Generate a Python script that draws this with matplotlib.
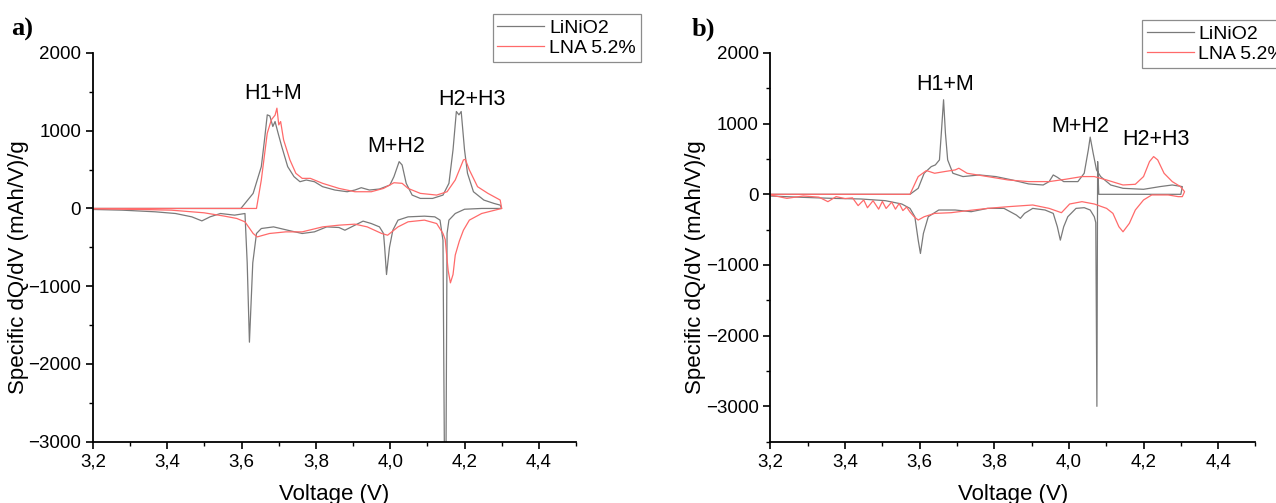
import matplotlib.pyplot as plt
from matplotlib.ticker import MultipleLocator, FuncFormatter

plt.rcParams['font.family'] = ['Liberation Sans', 'DejaVu Sans']

# panel a) LiNiO2 (charge then discharge)
a_lno_v = [3.2, 3.598, 3.631, 3.653, 3.662, 3.669, 3.676, 3.684, 3.690, 3.697, 3.708, 3.724, 3.741, 3.757,
           3.774, 3.796, 3.818, 3.851, 3.884, 3.905, 3.922, 3.944, 3.971, 3.999, 4.010, 4.024, 4.032, 4.043,
           4.059, 4.081, 4.114, 4.142, 4.158, 4.169, 4.178, 4.185, 4.191, 4.200, 4.208, 4.224, 4.252, 4.279,
           4.296,
           4.300, 4.246, 4.200, 4.175, 4.158, 4.153, 4.150, 4.146, 4.142, 4.134, 4.120, 4.092, 4.048, 4.021,
           4.007, 3.998, 3.990, 3.985, 3.982, 3.971, 3.949, 3.927, 3.905, 3.878, 3.862, 3.829, 3.796, 3.763,
           3.724, 3.686, 3.653, 3.640, 3.630, 3.621, 3.615, 3.609, 3.581, 3.543, 3.515, 3.493, 3.466, 3.422,
           3.367, 3.279, 3.2]
a_lno_q = [0, 0, 194, 538, 900, 1204, 1190, 1054, 1118, 989, 796, 538, 409, 344,
           366, 344, 280, 237, 215, 237, 267, 237, 250, 301, 409, 602, 559, 323,
           172, 129, 129, 172, 323, 753, 1247, 1204, 1247, 753, 452, 215, 108, 65,
           43,
           0, 0, -10, -65, -150, -320, -3300, -3300, -410, -150, -108, -99, -108, -150,
           -280, -500, -850, -500, -322, -237, -194, -163, -215, -280, -245, -237, -301, -322,
           -280, -237, -258, -322, -700, -1720, -700, -65, -86, -65, -108, -160, -108, -65,
           -43, -22, -13]

# panel a) LNA 5.2%
a_lna_v = [3.2, 3.640, 3.653, 3.669, 3.680, 3.690, 3.695, 3.700, 3.705, 3.713, 3.730, 3.746, 3.763, 3.785,
           3.818, 3.862, 3.905, 3.949, 3.982, 4.010, 4.032, 4.048, 4.081, 4.125, 4.153, 4.175, 4.197, 4.202,
           4.213, 4.235, 4.263, 4.296,
           4.300, 4.246, 4.213, 4.197, 4.186, 4.175, 4.169, 4.162, 4.156, 4.153, 4.148, 4.142, 4.125, 4.092,
           4.048, 4.021, 3.993, 3.977, 3.938, 3.905, 3.862, 3.818, 3.763, 3.719, 3.675, 3.642, 3.631, 3.609,
           3.587, 3.554, 3.499, 3.411, 3.279, 3.2]
a_lna_q = [0, 0, 366, 968, 1140, 1200, 1290, 1075, 1118, 882, 624, 452, 387, 387,
           323, 258, 215, 215, 258, 331, 323, 258, 194, 172, 215, 366, 624, 632,
           495, 280, 194, 108,
           0, -65, -150, -280, -420, -600, -850, -957, -800, -656, -400, -322, -194, -150,
           -172, -237, -344, -322, -237, -202, -215, -237, -301, -301, -322, -366, -322, -172,
           -129, -99, -56, -22, -9, -4]

# panel b) LiNiO2
b_lno_v = [3.2, 3.574, 3.596, 3.612, 3.631, 3.642, 3.653, 3.658, 3.664, 3.669, 3.675, 3.689, 3.716, 3.760,
           3.804, 3.848, 3.892, 3.931, 3.947, 3.958, 3.969, 3.986, 4.024, 4.041, 4.052, 4.057, 4.065, 4.074,
           4.085, 4.112, 4.145, 4.200, 4.244, 4.277, 4.304,
           4.300, 4.080, 4.077, 4.075, 4.072, 4.068, 4.057, 4.041, 4.019, 3.997, 3.986, 3.977, 3.969, 3.958,
           3.936, 3.903, 3.881, 3.870, 3.859, 3.826, 3.782, 3.738, 3.695, 3.651, 3.623, 3.610, 3.602, 3.596,
           3.587, 3.574, 3.552, 3.508, 3.442, 3.365, 3.288, 3.2]
b_lno_q = [0, 0, 85, 298, 392, 416, 487, 865, 1338, 865, 487, 298, 251, 274,
           251, 203, 147, 132, 180, 274, 241, 180, 180, 298, 629, 809, 582, 345,
           251, 132, 85, 71, 109, 132, 109,
           0, 0, 463, -3000, -400, -317, -222, -189, -199, -317, -459, -648, -459, -270,
           -222, -199, -270, -340, -293, -199, -199, -246, -222, -222, -317, -553, -837, -648,
           -317, -199, -137, -90, -66, -57, -43, -24]

# panel b) LNA 5.2%
b_lna_v = [3.2, 3.574, 3.596, 3.618, 3.640, 3.667, 3.695, 3.705, 3.727, 3.782, 3.837, 3.892, 3.947, 3.991,
           4.035, 4.068, 4.101, 4.145, 4.178, 4.200, 4.216, 4.227, 4.238, 4.255, 4.277, 4.299, 4.310, 4.304,
           4.293, 4.266, 4.222, 4.200, 4.178, 4.162, 4.145, 4.134, 4.118, 4.101, 4.068, 4.035, 4.002, 3.980,
           3.947, 3.903, 3.837, 3.782, 3.727, 3.684, 3.640, 3.612, 3.596, 3.585, 3.574, 3.565, 3.555, 3.545,
           3.535, 3.525, 3.510, 3.500, 3.490, 3.475, 3.460, 3.450, 3.435, 3.420, 3.400, 3.376, 3.354, 3.330,
           3.288, 3.244, 3.2]
b_lna_q = [0, 0, 251, 336, 298, 322, 345, 369, 298, 251, 203, 180, 180, 213,
           251, 251, 203, 132, 142, 251, 463, 534, 487, 298, 180, 109, 38, -33,
           -33, -9, -9, -80, -222, -411, -530, -459, -270, -199, -137, -104, -137, -260,
           -199, -151, -175, -199, -232, -260, -270, -317, -364, -317, -250, -180, -230, -130,
           -210, -110, -200, -100, -210, -90, -190, -80, -160, -50, -60, -33, -104, -40,
           -24, -57, -9]

series_names = ['LiNiO2', 'LNA 5.2%']
colors = ['#7a7a7a', '#ff6a6a']

a_labels = ['H1+M', 'M+H2', 'H2+H3']
a_label_pos = [(3.686, 1480), (4.015, 800), (4.219, 1400)]
b_labels = ['H1+M', 'M+H2', 'H2+H3']
b_label_pos = [(3.667, 1550), (4.030, 960), (4.233, 771)]

fig = plt.figure(figsize=(12.76, 5.03), dpi=100)
ax_a = fig.add_axes([0.0729, 0.1219, 0.3785, 0.7728])
ax_b = fig.add_axes([0.6038, 0.1219, 0.3801, 0.7728])

comma = FuncFormatter(lambda x, pos: ('%.1f' % x).replace('.', ','))
minus = FuncFormatter(lambda y, pos: ('%d' % y).replace('-', '\u2212'))

panels = [
    (ax_a, [(a_lno_v, a_lno_q), (a_lna_v, a_lna_q)], a_labels, a_label_pos, (-3000, 2000), 'a)', (0.009, 0.93), (0.386, 0.972)),
    (ax_b, [(b_lno_v, b_lno_q), (b_lna_v, b_lna_q)], b_labels, b_label_pos, (-3500, 2000), 'b)', (0.542, 0.93), (0.895, 0.960)),
]

for ax, curves, labels, pos, ylim, tag, tagpos, legpos in panels:
    handles = []
    for (v, q), c, name in zip(curves, colors, series_names):
        h, = ax.plot(v, q, color=c, lw=0.9, label=name)
        handles.append(h)
    for t, (x, y) in zip(labels, pos):
        ax.text(x, y, t, ha='center', va='center', fontsize=15.5)
    ax.set_xlim(3.2, 4.5)
    ax.set_ylim(*ylim)
    ax.xaxis.set_major_locator(MultipleLocator(0.2))
    ax.xaxis.set_minor_locator(MultipleLocator(0.1))
    ax.yaxis.set_major_locator(MultipleLocator(1000))
    ax.yaxis.set_minor_locator(MultipleLocator(500))
    ax.xaxis.set_major_formatter(comma)
    ax.yaxis.set_major_formatter(minus)
    ax.spines['top'].set_visible(False)
    ax.spines['right'].set_visible(False)
    for s in ['left', 'bottom']:
        ax.spines[s].set_linewidth(1.3)
    ax.tick_params(which='major', direction='out', length=5, width=1.2, labelsize=13.5)
    ax.tick_params(which='minor', direction='out', length=3, width=1.0)
    ax.set_xlabel('Voltage (V)', fontsize=16)
    ax.set_ylabel('Specific dQ/dV (mAh/V)/g', fontsize=16)
    ax.xaxis.set_label_coords(0.5, -0.108)
    ax.yaxis.set_label_coords(-0.132, 0.45)
    fig.text(tagpos[0], tagpos[1], tag, fontsize=19, fontweight='bold', family='Liberation Serif')
    leg = fig.legend(handles=handles, loc='upper left', bbox_to_anchor=legpos, fontsize=14,
                     frameon=True, fancybox=False, edgecolor='#707070', handlelength=2.4,
                     borderpad=0.25, labelspacing=0.15, handletextpad=0.25, borderaxespad=0)
    leg.get_frame().set_linewidth(0.9)

plt.savefig('out.png', dpi=100)
